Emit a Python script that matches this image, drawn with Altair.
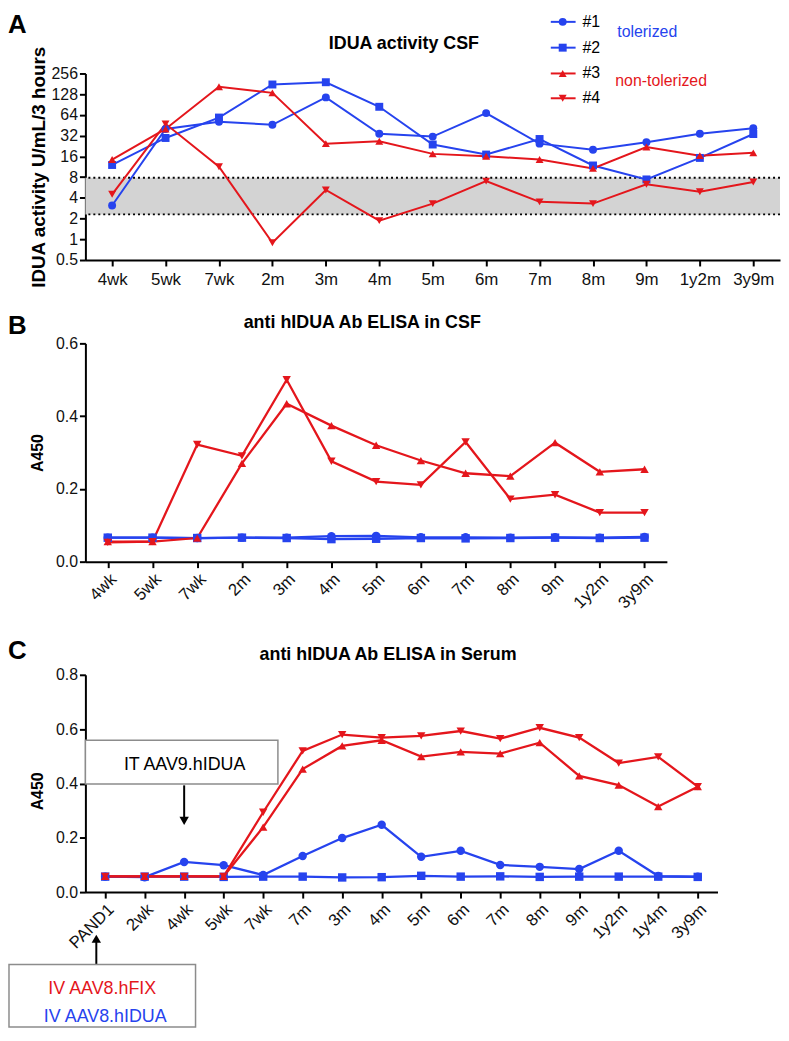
import json
import altair as alt
import pandas as pd

BLUE = "#2643ee"
RED = "#e4161c"
FONT = "Liberation Sans"

SERIES = ["#1", "#2", "#3", "#4"]
SERIES_COLORS = [BLUE, BLUE, RED, RED]
SERIES_SHAPES = ["circle", "square", "triangle-up", "triangle-down"]

# ---------------- Panel A : IDUA activity CSF (log2 scale) ----------------
A_TIMES = ["4wk", "5wk", "7wk", "2m", "3m", "4m", "5m", "6m", "7m", "8m", "9m", "1y2m", "3y9m"]
A_S1 = [3.1, 40, 51, 46, 115, 34, 31, 68, 24.5, 20, 25.6, 34, 41]
A_S2 = [12, 29.6, 58.6, 177, 191, 84, 23.8, 17, 28.6, 11.8, 7.4, 15.2, 33.8]
A_S3 = [14.4, 40, 164, 134, 24.5, 26.5, 17.4, 16.1, 14.4, 10.7, 21.9, 16.4, 18]
A_S4 = [4.5, 47.5, 11.3, 0.89, 5.2, 1.87, 3.3, 7.0, 3.5, 3.3, 6.3, 4.9, 6.8]
A_BAND = [2.3, 7.8]
A_TICKS = [0.5, 1, 2, 4, 8, 16, 32, 64, 128, 256]

# ---------------- Panel B : anti hIDUA Ab ELISA in CSF ----------------
B_TIMES = A_TIMES
B_S1 = [0.066, 0.066, 0.065, 0.066, 0.066, 0.070, 0.071, 0.067, 0.067, 0.066, 0.067, 0.066, 0.068]
B_S2 = [0.066, 0.066, 0.065, 0.066, 0.065, 0.062, 0.063, 0.065, 0.064, 0.065, 0.066, 0.065, 0.066]
B_S3 = [0.055, 0.055, 0.065, 0.270, 0.434, 0.374, 0.320, 0.278, 0.243, 0.235, 0.327, 0.247, 0.254]
B_S4 = [0.053, 0.055, 0.322, 0.291, 0.500, 0.276, 0.220, 0.211, 0.329, 0.172, 0.184, 0.135, 0.135]
B_TICKS = [0, 0.2, 0.4, 0.6]

# ---------------- Panel C : anti hIDUA Ab ELISA in Serum ----------------
C_TIMES = ["PAND1", "2wk", "4wk", "5wk", "7wk", "7m", "3m", "4m", "5m", "6m", "7m", "8m", "9m",
           "1y2m", "1y4m", "3y9m"]
C_S1 = [0.057, 0.055, 0.111, 0.099, 0.063, 0.133, 0.199, 0.248, 0.130, 0.152, 0.100, 0.093,
        0.085, 0.152, 0.059, 0.057]
C_S2 = [0.057, 0.057, 0.057, 0.056, 0.057, 0.057, 0.054, 0.055, 0.060, 0.057, 0.058, 0.056,
        0.057, 0.057, 0.057, 0.056]
C_S3 = [0.058, 0.058, 0.058, 0.058, 0.239, 0.453, 0.538, 0.559, 0.499, 0.516, 0.510, 0.550,
        0.428, 0.394, 0.315, 0.388]
C_S4 = [0.058, 0.058, 0.058, 0.058, 0.294, 0.520, 0.580, 0.569, 0.575, 0.593, 0.565, 0.605,
        0.569, 0.475, 0.498, 0.388]
C_TICKS = [0, 0.2, 0.4, 0.6, 0.8]
C_IT_ARROW_AT = 2          # index of "4wk": IT AAV9.hIDUA injection
C_IT_ARROW = [0.393, 0.27]  # arrow stem (A450 units)

WA, HA = 700, 188
WB, HB = 586, 220
WC, HC = 637, 219

dummy = pd.DataFrame({"k": [0]})


def long_df(cols):
    rows = []
    for s, vals in zip(SERIES, cols):
        for i, v in enumerate(vals):
            rows.append({"t": i, "series": s, "v": v})
    return pd.DataFrame(rows)


color_enc = alt.Color("series:N", scale=alt.Scale(domain=SERIES, range=SERIES_COLORS), legend=None)
shape_enc = alt.Shape("series:N", scale=alt.Scale(domain=SERIES, range=SERIES_SHAPES), legend=None)


def x_enc(times, rotated):
    expr = json.dumps(times) + "[datum.value]"
    if not rotated:
        ax = alt.Axis(title=None, labelExpr=expr, labelAngle=0, labelPadding=6, labelFontSize=17)
    else:
        ax = alt.Axis(title=None, labelExpr=expr, labelAngle=-45, labelAlign="right",
                      labelBaseline="top", labelPadding=3, labelFontSize=17)
    return alt.X("t:O", scale=alt.Scale(type="point", padding=0.5), axis=ax)


def series_layers(df, xe, ye, size, sw):
    base = alt.Chart(df)
    line = base.mark_line(strokeWidth=sw).encode(x=xe, y=ye, color=color_enc)
    pts = base.mark_point(filled=True, size=size, opacity=1).encode(
        x=xe, y=ye, color=color_enc, shape=shape_enc)
    return [line, pts]


def label(txt, x, y, size, color="black", weight="normal", align="left", baseline="alphabetic"):
    return alt.Chart(dummy).mark_text(
        text=txt, fontSize=size, fontWeight=weight, color=color, align=align,
        baseline=baseline, font=FONT).encode(x=alt.value(x), y=alt.value(y))


def frame(top, bottom, left=-78):
    return alt.Chart(dummy).mark_rule(strokeOpacity=0, strokeWidth=0.01).encode(
        x=alt.value(left), y=alt.value(top), y2=alt.value(bottom))


# ---------- Panel A ----------
xA = x_enc(A_TIMES, False)
yA = alt.Y("v:Q", scale=alt.Scale(type="log", base=2, domain=[0.5, 256], nice=False),
           axis=alt.Axis(values=A_TICKS, format="~g", title="IDUA activity U/mL/3 hours",
                         titleX=-41, titleY=HA / 2, titleBaseline="alphabetic",
                         titleFontSize=19))

bandA = alt.Chart(pd.DataFrame({"v": [A_BAND[0]], "v2": [A_BAND[1]]})).mark_rect(
    color="#d3d3d3").encode(y=yA, y2="v2:Q", x=alt.value(0), x2=alt.value(WA))
dotsA = alt.Chart(pd.DataFrame({"v": A_BAND})).mark_rule(
    strokeDash=[2, 3], strokeWidth=2, color="black").encode(y=yA)

layersA = [bandA, dotsA] + series_layers(long_df([A_S1, A_S2, A_S3, A_S4]), xA, yA, 64, 2)

legend_rows = [-52, -26, 0, 25]
for s, c, sh, yy in zip(SERIES, SERIES_COLORS, SERIES_SHAPES, legend_rows):
    layersA.append(alt.Chart(dummy).mark_rule(color=c, strokeWidth=2).encode(
        x=alt.value(469), x2=alt.value(494), y=alt.value(yy)))
    layersA.append(alt.Chart(dummy).mark_point(shape=sh, filled=True, size=64, color=c,
                                               opacity=1).encode(x=alt.value(481), y=alt.value(yy)))
    layersA.append(label(s, 501, yy, 16, baseline="middle"))

layersA += [
    label("tolerized", 536, -37, 16, color=BLUE),
    label("non-tolerized", 534, 13, 16, color=RED),
    label("IDUA activity CSF", 321, -25, 18, weight="bold", align="center"),
    label("A", -78, -49, 26, weight="bold", baseline="middle"),
    frame(-62, HA + 52),
]
panelA = alt.layer(*layersA).properties(width=WA, height=HA)

# ---------- Panel B ----------
xB = x_enc(B_TIMES, True)
yB = alt.Y("v:Q", scale=alt.Scale(domain=[0, 0.6], nice=False),
           axis=alt.Axis(values=B_TICKS, format=".1f", title="A450", titleX=-43,
                         titleY=HB / 2, titleBaseline="alphabetic", titleFontSize=16))
layersB = series_layers(long_df([B_S1, B_S2, B_S3, B_S4]), xB, yB, 72, 2.3)
layersB += [
    label("anti hIDUA Ab ELISA in CSF", 279, -15, 18, weight="bold", align="center"),
    label("B", -78, -17, 26, weight="bold", baseline="middle"),
    frame(-32, HB + 72),
]
panelB = alt.layer(*layersB).properties(width=WB, height=HB)

# ---------- Panel C ----------
xC = x_enc(C_TIMES, True)
yC = alt.Y("v:Q", scale=alt.Scale(domain=[0, 0.8], nice=False),
           axis=alt.Axis(values=C_TICKS, format=".1f", title="A450", titleX=-43,
                         titleY=117, titleBaseline="alphabetic", titleFontSize=16))
layersC = series_layers(long_df([C_S1, C_S2, C_S3, C_S4]), xC, yC, 72, 2.3)

arrow_df = pd.DataFrame({"t": [C_IT_ARROW_AT], "v": [C_IT_ARROW[0]], "v2": [C_IT_ARROW[1]]})
head_df = pd.DataFrame({"t": [C_IT_ARROW_AT], "v": [C_IT_ARROW[1] - 0.008]})

layersC += [
    alt.Chart(dummy).mark_rect(fill="white", stroke="#8c8c8c", strokeWidth=1.5).encode(
        x=alt.value(0), x2=alt.value(194), y=alt.value(66), y2=alt.value(110)),
    label("IT AAV9.hIDUA", 100, 96, 18, align="center"),
    alt.Chart(arrow_df).mark_rule(color="black", strokeWidth=2).encode(x=xC, y=yC, y2="v2:Q"),
    alt.Chart(head_df).mark_point(shape="triangle-down", filled=True, size=90, color="black",
                                  opacity=1).encode(x=xC, y=yC),
    alt.Chart(dummy).mark_rule(color="black", strokeWidth=2).encode(
        x=alt.value(11), y=alt.value(268), y2=alt.value(292)),
    alt.Chart(dummy).mark_point(shape="triangle-up", filled=True, size=90, color="black",
                                opacity=1).encode(x=alt.value(11), y=alt.value(266)),
    alt.Chart(dummy).mark_rect(fill="white", stroke="#8c8c8c", strokeWidth=1.5).encode(
        x=alt.value(-77), x2=alt.value(111), y=alt.value(292), y2=alt.value(355)),
    label("IV AAV8.hFIX", 17, 322, 18, color=RED, align="center"),
    label("IV AAV8.hIDUA", 20, 350, 18, color=BLUE, align="center"),
    label("anti hIDUA Ab ELISA in Serum", 305, -15, 18, weight="bold", align="center"),
    label("C", -78, -24, 26, weight="bold", baseline="middle"),
    frame(-42, 355),
]
panelC = alt.layer(*layersC).properties(width=WC, height=HC)

chart = alt.vconcat(panelA, panelB, panelC, spacing=0).properties(
    padding=0
).configure_view(stroke=None).configure_axis(
    domainColor="black", domainWidth=2, tickColor="black", tickWidth=2, tickSize=6,
    labelColor="#111111", labelFontSize=16, labelFont=FONT, titleFont=FONT,
    titleFontWeight="bold", titleColor="black", grid=False
).configure_text(font=FONT)

chart.save("out.html", embed_options={"renderer": "svg", "actions": False})
